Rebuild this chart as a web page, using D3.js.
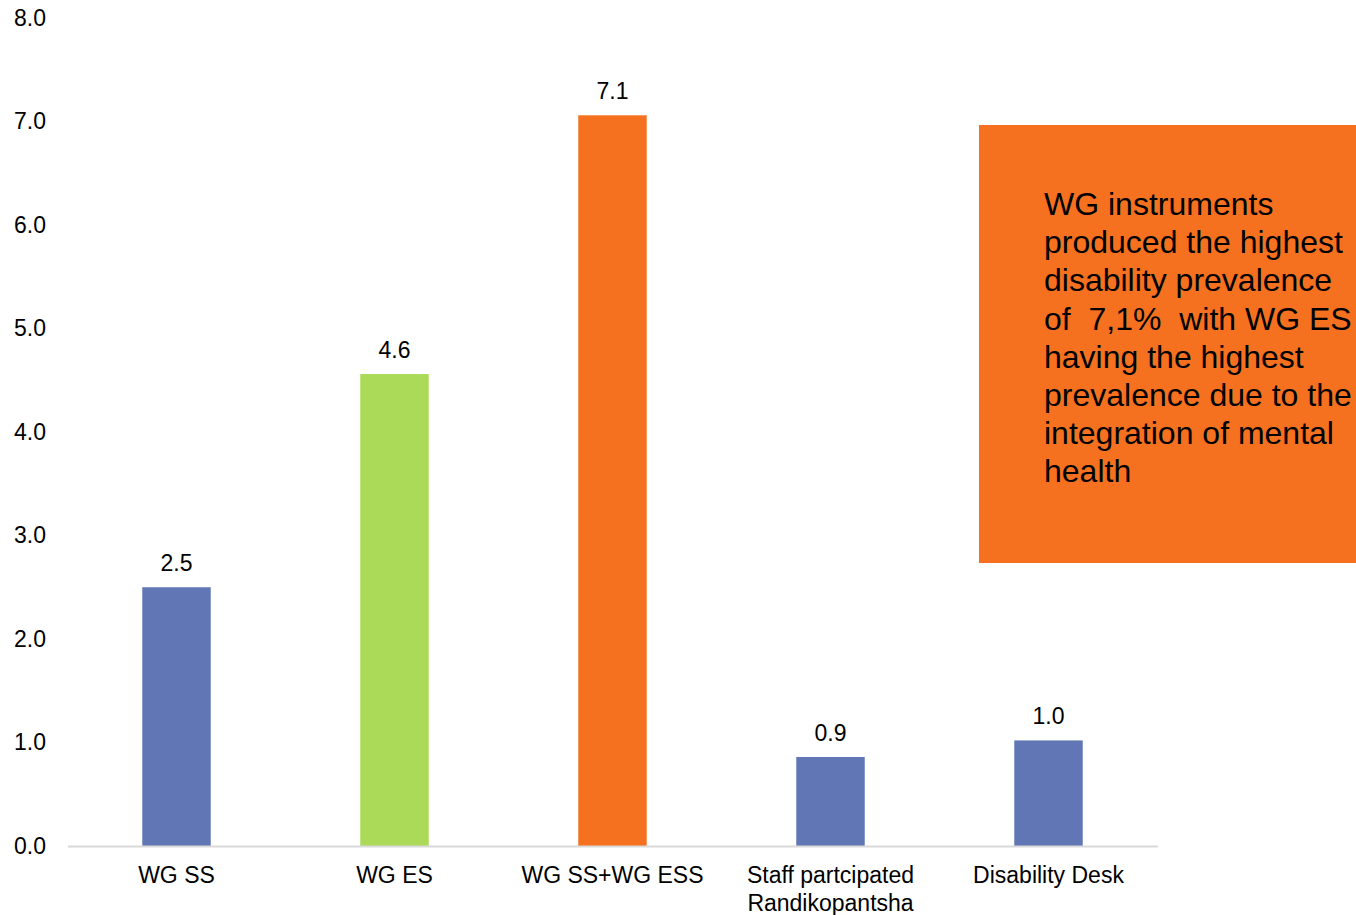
<!DOCTYPE html>
<html>
<head>
<meta charset="utf-8">
<script src="https://cdn.jsdelivr.net/npm/d3@7"></script>
<style>
  html, body { margin: 0; padding: 0; background: #ffffff; }
  svg { display: block; font-family: "Liberation Sans", Arial, sans-serif; }
  text { fill: #000000; }
</style>
</head>
<body>
<svg id="chart" width="1356" height="915"></svg>
<script>
// Disability prevalence (%) by instrument
const categories = ["WG SS", "WG ES", "WG SS+WG ESS", "Staff partcipated\nRandikopantsha", "Disability Desk"];
const prevalence = [2.5, 4.56, 7.06, 0.86, 1.02];
const barColors = ["#6176B5", "#AADA57", "#F6711F", "#6176B5", "#6176B5"];
const yTicks = [0, 1, 2, 3, 4, 5, 6, 7, 8];
const noteLines = [
  "WG instruments",
  "produced the highest",
  "disability prevalence",
  "of  7,1%  with WG ES",
  "having the highest",
  "prevalence due to the",
  "integration of mental",
  "health"
];

const svg = d3.select("#chart");

const x = d3.scaleBand()
  .domain(categories)
  .range([67.5, 1157.5])
  .paddingInner(0.686)
  .paddingOuter(0.343);

const y = d3.scaleLinear().domain([0, 8]).range([846, 18]);

// value axis labels (no axis line, no ticks)
const yAxis = svg.append("g")
  .attr("transform", "translate(46,0)")
  .call(d3.axisLeft(y).tickValues(yTicks).tickFormat(d3.format(".1f")).tickSize(0).tickPadding(0));
yAxis.select(".domain").remove();
yAxis.selectAll("text")
  .attr("font-family", "Liberation Sans, Arial, sans-serif")
  .attr("font-size", 23)
  .attr("fill", "#000");

// bars
svg.append("g").selectAll("rect")
  .data(prevalence)
  .join("rect")
  .attr("x", (d, i) => x(categories[i]))
  .attr("width", x.bandwidth())
  .attr("y", d => y(d))
  .attr("height", d => y(0) - y(d))
  .attr("fill", (d, i) => barColors[i]);

// value labels
svg.append("g").selectAll("text")
  .data(prevalence)
  .join("text")
  .attr("x", (d, i) => x(categories[i]) + x.bandwidth() / 2)
  .attr("y", d => y(d) - 16)
  .attr("text-anchor", "middle")
  .attr("font-size", 23)
  .text(d => d3.format(".1f")(d));

// category axis
const xAxis = svg.append("g")
  .attr("transform", `translate(0,${y(0)})`)
  .call(d3.axisBottom(x).tickSize(0).tickFormat(""));
xAxis.select(".domain")
  .attr("stroke", "#d9d9d9")
  .attr("stroke-width", 2);

const catLabels = svg.append("g").selectAll("text")
  .data(categories)
  .join("text")
  .attr("x", d => x(d) + x.bandwidth() / 2)
  .attr("y", y(0) + 37)
  .attr("text-anchor", "middle")
  .attr("font-size", 23);
catLabels.selectAll("tspan")
  .data(d => d.split("\n"))
  .join("tspan")
  .attr("x", function () { return d3.select(this.parentNode).attr("x"); })
  .attr("dy", (d, i) => i === 0 ? 0 : 28)
  .text(d => d);

// annotation box
const note = svg.append("g");
note.append("rect")
  .attr("x", 979)
  .attr("y", 125)
  .attr("width", 377)
  .attr("height", 438)
  .attr("fill", "#F6711F");
note.append("g").selectAll("text")
  .data(noteLines)
  .join("text")
  .attr("x", 1044)
  .attr("y", (d, i) => 215 + i * 38.2)
  .attr("font-size", 32)
  .style("white-space", "pre")
  .text(d => d);
</script>
</body>
</html>
